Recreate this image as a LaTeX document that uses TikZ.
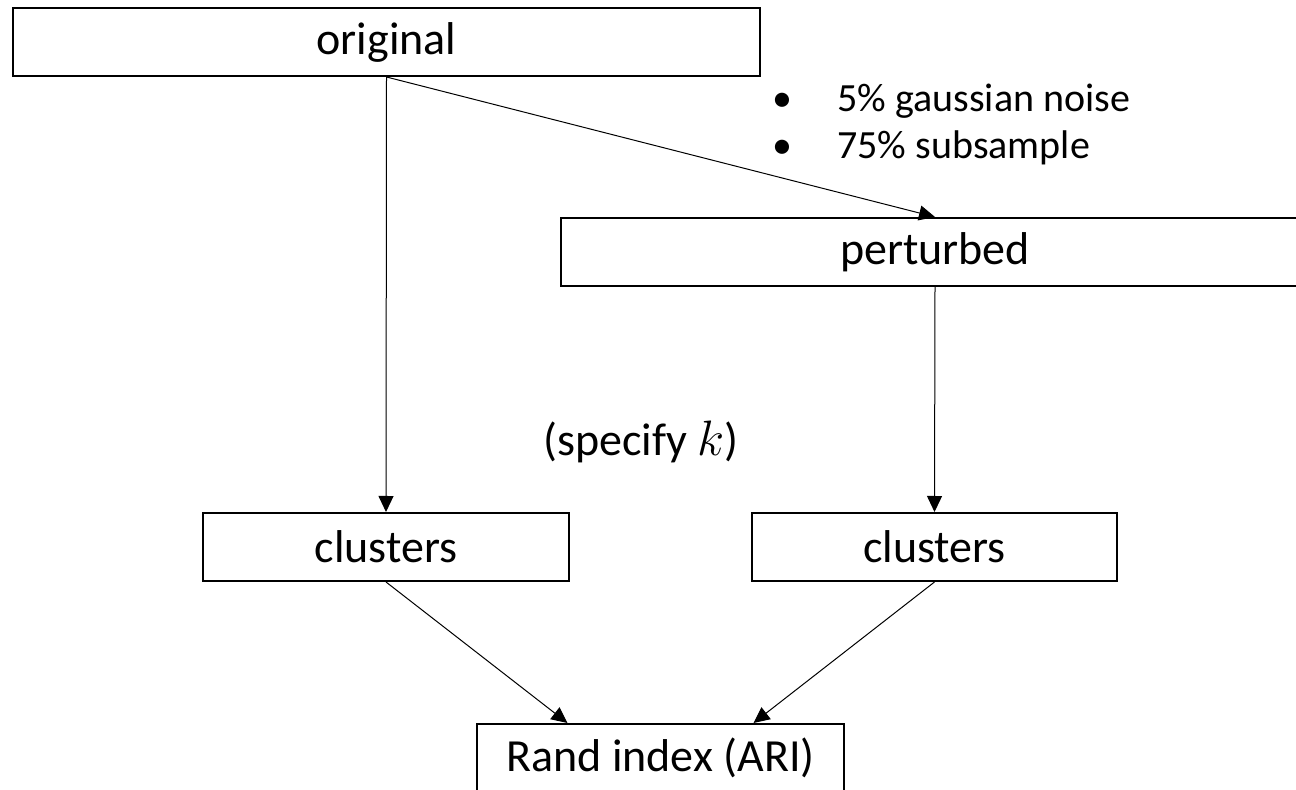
\documentclass[tikz,border=0pt]{standalone}
\usepackage{fontspec}
\setmainfont{Carlito}
\usepackage{tikz}
\usetikzlibrary{arrows.meta}

\begin{document}
\begin{tikzpicture}[
  x=0.5pt, y=-0.5pt,
  box/.style={rectangle, draw=black, line width=1pt, minimum height=34pt, inner sep=0pt, font=\fontsize{23}{27}\selectfont},
  note/.style={inner sep=0pt, anchor=base west},
  arrow/.style={-{Triangle[length=8pt, width=7.5pt]}, line width=0.5pt}
]
\useasboundingbox (0,0) rectangle (1296,790);

\node[box, minimum width=373.5pt] (original) at (386.5,42) {original};
\node[box, minimum width=374pt] (perturbed) at (935,252) {perturbed};
\node[box, minimum width=183pt] (clustersA) at (386,547) {clusters};
\node[box, minimum width=182.5pt] (clustersB) at (934.5,547) {clusters};
\node[box, minimum width=183.5pt] (rand) at (660.5,758) {Rand index (ARI)};

\node[note, font=\fontsize{20}{24}\selectfont] (noise) at (772,112) {\makebox[32.5pt][l]{\textbullet}5\% gaussian noise};
\node[note, font=\fontsize{20}{24}\selectfont] (subsample) at (772,159) {\makebox[32.5pt][l]{\textbullet}75\% subsample};
\node[note, font=\fontsize{23}{27}\selectfont] (specify) at (543,456) {(specify $k$)};

\draw[arrow] (original.south) -- (clustersA.north);
\draw[arrow] (original.south) -- (perturbed.north);
\draw[arrow] (perturbed.south) -- (clustersB.north);
\draw[arrow] (clustersA.south) -- ([xshift=-46.5pt]rand.north);
\draw[arrow] (clustersB.south) -- ([xshift=46.5pt]rand.north);
\end{tikzpicture}
\end{document}
